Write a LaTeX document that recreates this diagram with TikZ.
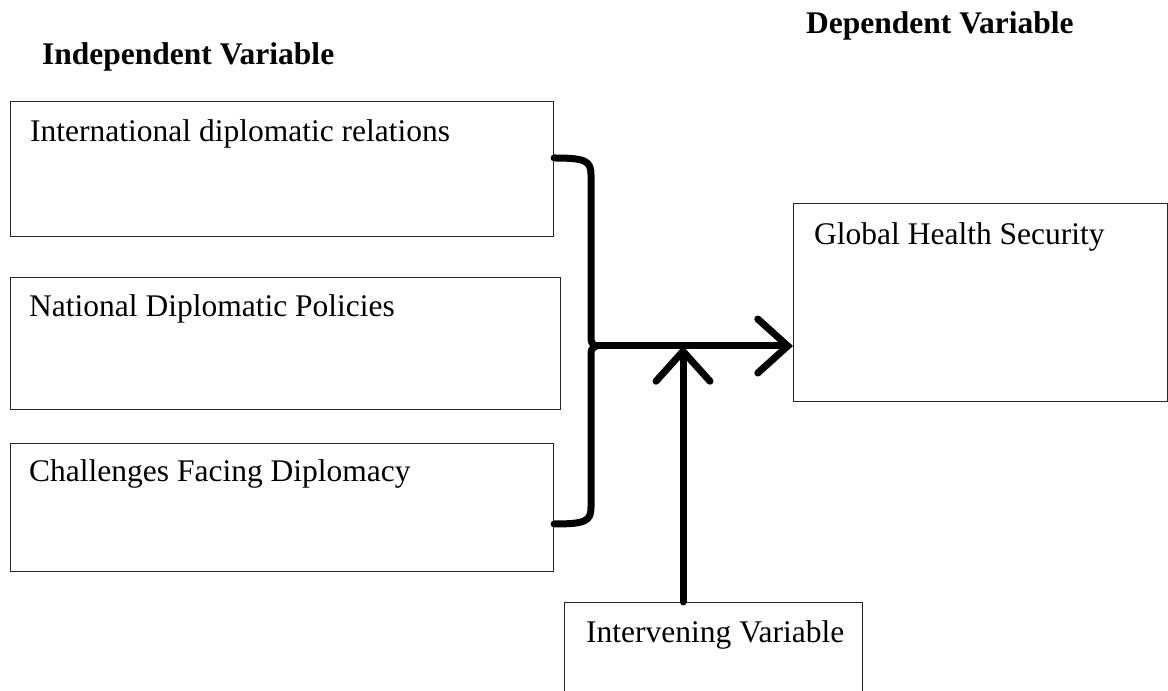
\documentclass[tikz,border=0pt]{standalone}
\usepackage{fontspec}
\setmainfont{Liberation Serif}
\usetikzlibrary{arrows.meta,calc}
\begin{document}
\begin{tikzpicture}[x=1pt,y=1pt,
  box/.style={draw=black!85,line width=1.1pt,inner sep=0pt,anchor=south west},
  boxtext/.style={anchor=base west,inner sep=0pt,font=\fontsize{31.5}{36}\selectfont},
  title/.style={anchor=base west,inner sep=0pt,font=\fontsize{31.5}{36}\selectfont\bfseries},
  heavy/.style={line width=7pt,line cap=round,line join=round},
  barb/.style={-{Straight Barb[length=30pt,width=54pt,line cap=round]}}]
\useasboundingbox (0,0) rectangle (1168,691);
% titles
\node[title] (tin) at (42,626) {Independent Variable};
\node[title] (tdep) at (806,657) {Dependent Variable};
% boxes
\node[box,minimum width=543pt,minimum height=135pt] (b1) at (10,454) {};
\node[box,minimum width=550pt,minimum height=132pt] (b2) at (10,281) {};
\node[box,minimum width=543pt,minimum height=128pt] (b3) at (10,119) {};
\node[box,minimum width=374pt,minimum height=198pt] (g) at (793,289) {};
\node[box,minimum width=298pt,minimum height=108pt] (iv) at (564,-20) {};
% texts
\node[boxtext] (t1) at (30,549) {International diplomatic relations};
\node[boxtext] (t2) at (29,374) {National Diplomatic Policies};
\node[boxtext] (t3) at (29,209) {Challenges Facing Diplomacy};
\node[boxtext] (tg) at (814,446) {Global Health Security};
\node[boxtext] (ti) at (586,48) {Intervening Variable};
% brace
\coordinate (btop) at (b1.east |- 0,533);
\coordinate (bbot) at (b3.east |- 0,167);
\coordinate (tip) at (596,345);
\coordinate (join) at (683,345);
\coordinate (ivtop) at (iv.north -| join);
\draw[heavy] (btop) .. controls (586,533) and (591,530) .. (591,516) -- (591,356)
  .. controls (591,348) .. (tip);
\draw[heavy] (bbot) .. controls (586,167) and (591,170) .. (591,184) -- (591,334)
  .. controls (591,342) .. (tip);
% arrows
\draw[heavy,barb] (tip) -- (g.west |- tip);
\draw[heavy,barb] (ivtop) -- (join);
\end{tikzpicture}
\end{document}
